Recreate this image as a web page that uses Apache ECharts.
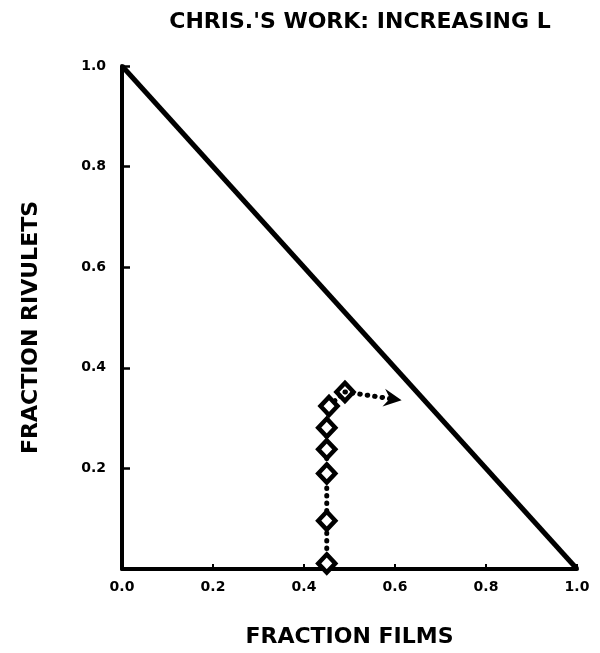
<!DOCTYPE html>
<html>
<head>
<meta charset="utf-8">
<script src="https://cdn.jsdelivr.net/npm/echarts@6/dist/echarts.min.js"></script>
<style>
  html, body { margin: 0; padding: 0; background: #fff; }
  #chart { width: 600px; height: 653px; }
</style>
</head>
<body>
<div id="chart"></div>
<script>
// Tick positions for both axes
const xTicks = [0.0, 0.2, 0.4, 0.6, 0.8, 1.0];
const yTicks = [0.2, 0.4, 0.6, 0.8, 1.0];

// Boundary of the admissible region: films + rivulets = 1
const boundaryFilms = [0, 1];
const boundaryRivulets = [1, 0];

// Path traced as L increases
const pathFilms = [0.45, 0.45, 0.45, 0.45, 0.45, 0.455, 0.49];
const pathRivulets = [0.011, 0.096, 0.19, 0.238, 0.281, 0.324, 0.352];

// Continuation of the path beyond the last computed state
const arrowFilms = [0.49, 0.595];
const arrowRivulets = [0.352, 0.338];

const font = 'DejaVu Sans';
const zip = (a, b) => a.map((v, i) => [v, b[i]]);
const onTick = (list, v) => list.includes(Math.round(v * 10) / 10);
const dotted = { color: '#000', width: 5, type: [0.5, 7], cap: 'round' };

const chart = echarts.init(document.getElementById('chart'), null, { renderer: 'canvas' });

chart.setOption({
  animation: false,
  backgroundColor: '#fff',
  title: {
    text: "CHRIS.'S WORK: INCREASING L",
    left: 355, top: 6, textAlign: 'center',
    textStyle: { fontFamily: font, fontWeight: 'bold', fontSize: 22, color: '#000' }
  },
  grid: { left: 122, right: 23, top: 66, bottom: 81 },
  xAxis: {
    type: 'value', min: 0, max: 1, interval: 0.2,
    name: 'FRACTION FILMS', nameLocation: 'middle', nameGap: 57,
    nameTextStyle: { fontFamily: font, fontWeight: 'bold', fontSize: 22, color: '#000' },
    axisLine: { lineStyle: { color: '#000', width: 4 } },
    axisTick: { inside: true, length: 5, lineStyle: { color: '#000', width: 2 } },
    axisLabel: {
      margin: 11, color: '#000', fontFamily: font, fontWeight: 'bold', fontSize: 14,
      formatter: v => onTick(xTicks, v) ? v.toFixed(1) : ''
    },
    splitLine: { show: false }
  },
  yAxis: {
    type: 'value', min: 0, max: 1, interval: 0.2,
    name: 'FRACTION RIVULETS', nameLocation: 'middle', nameGap: 80, nameRotate: 90,
    nameTextStyle: { fontFamily: font, fontWeight: 'bold', fontSize: 22, color: '#000', padding: [0, 20, 0, 0] },
    axisLine: { lineStyle: { color: '#000', width: 4 } },
    axisTick: { inside: true, length: 8, lineStyle: { color: '#000', width: 2.5 } },
    axisLabel: {
      margin: 16, color: '#000', fontFamily: font, fontWeight: 'bold', fontSize: 14,
      formatter: v => onTick(yTicks, v) ? v.toFixed(1) : ''
    },
    splitLine: { show: false }
  },
  series: [
    {
      type: 'line',
      data: zip(boundaryFilms, boundaryRivulets),
      showSymbol: false,
      lineStyle: { color: '#000', width: 5 },
      z: 2
    },
    {
      type: 'line',
      data: [],
      markLine: {
        silent: true,
        symbol: ['none', 'path://M0,10 L5,0 L10,10 L5,6.5 Z'],
        symbolSize: [18, 18],
        label: { show: false },
        lineStyle: dotted,
        data: [[
          { coord: [arrowFilms[0], arrowRivulets[0]] },
          { coord: [arrowFilms[1], arrowRivulets[1]] }
        ]]
      },
      z: 3
    },
    {
      type: 'line',
      data: zip(pathFilms, pathRivulets),
      symbol: 'diamond',
      symbolSize: [17, 18],
      itemStyle: { color: '#fff', borderColor: '#000', borderWidth: 4.5 },
      lineStyle: dotted,
      z: 4
    }
  ]
});
</script>
</body>
</html>
